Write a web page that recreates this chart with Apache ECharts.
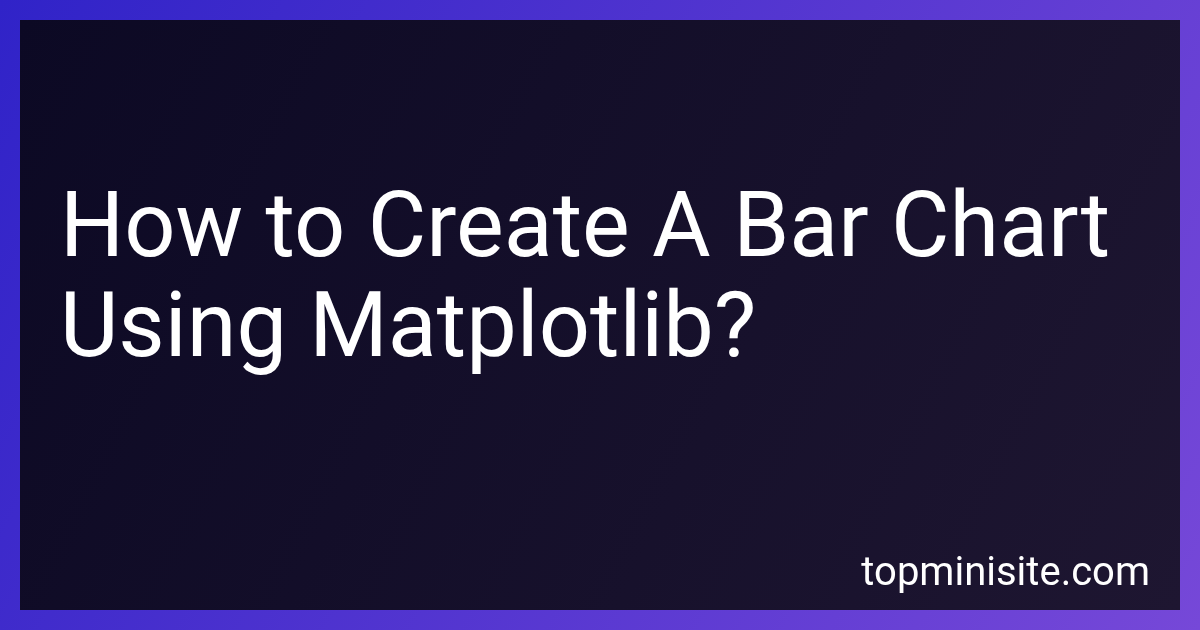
<!DOCTYPE html>
<html>
<head>
<meta charset="utf-8">
<script src="https://cdn.jsdelivr.net/npm/echarts@6/dist/echarts.min.js"></script>
<style>
html,body{margin:0;padding:0;background:#000;}
#chart{width:1200px;height:630px;}
</style>
</head>
<body>
<div id="chart"></div>
<script>
var titleLines = ["How to Create A Bar Chart", "Using Matplotlib?"];
var siteLabel = ["topminisite.com"];

var chart = echarts.init(document.getElementById('chart'), null, {renderer: 'canvas'});
var elements = [
  {
    type: 'rect', left: 0, top: 0,
    shape: {width: 1200, height: 630},
    style: {fill: new echarts.graphic.LinearGradient(0, 0, 1, 1, [
      {offset: 0, color: '#3023c8'},
      {offset: 1, color: '#7648d8'}
    ])},
    silent: true
  },
  {
    type: 'rect', left: 20, top: 20,
    shape: {width: 1160, height: 590},
    style: {fill: new echarts.graphic.LinearGradient(0, 0, 1, 1, [
      {offset: 0, color: '#0c0924'},
      {offset: 1, color: '#1e1631'}
    ])},
    silent: true
  }
];
titleLines.forEach(function (t, i) {
  elements.push({
    type: 'text', left: 60, top: 188 + i * 100,
    style: {text: t, fill: '#ffffff', font: '400 90px Roboto', textVerticalAlign: 'top'},
    silent: true
  });
});
elements.push({
  type: 'text', right: 50, top: 555,
  style: {text: siteLabel[0], fill: '#ffffff', font: '400 40px Roboto'},
  silent: true
});
chart.setOption({animation: false, graphic: {elements: elements}});
</script>
</body>
</html>
